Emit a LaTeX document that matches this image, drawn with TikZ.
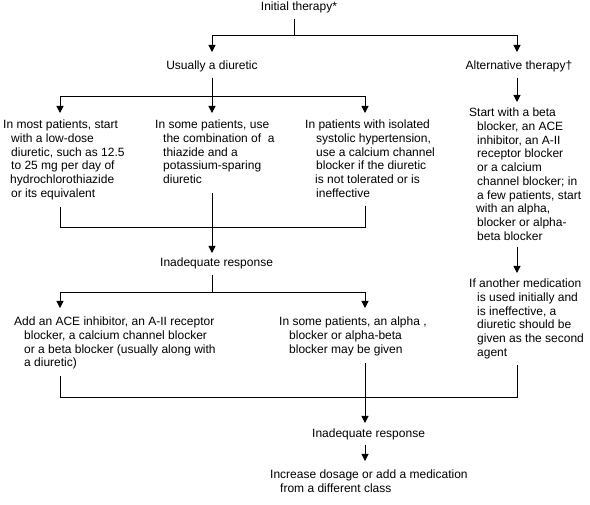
\documentclass[tikz,border=0pt]{standalone}
\usepackage{fontspec}
\setmainfont{Liberation Sans}
\usetikzlibrary{arrows.meta}
\begin{document}
\begin{tikzpicture}[x=1pt,y=-1pt,
  txt/.style={inner sep=0pt, font=\fontsize{12}{13.7}\selectfont, align=left, anchor=north west},
  ln/.style={line width=1pt},
  arr/.style={ln, -{Triangle[width=7pt,length=7pt]}}]
\useasboundingbox (0,0) rectangle (590,505);
% columns
\coordinate (xA) at (60,0);
\coordinate (xB) at (212,0);
\coordinate (xC) at (365,0);
\coordinate (xR) at (517,0);
% nodes
\node[txt, anchor=north] (init) at (299,2) {Initial therapy*};
\node[txt, anchor=north] (diur) at (212,61) {Usually a diuretic};
\node[txt, anchor=north] (alt) at (519,61) {Alternative therapy†};
\node[txt] (b1) at (3,120) {In most patients, start\\\hspace*{8pt}with a low-dose\\\hspace*{8pt}diuretic, such as 12.5\\\hspace*{8pt}to 25 mg per day of\\\hspace*{7pt}hydrochlorothiazide\\\hspace*{8pt}or its equivalent};
\node[txt] (b2) at (155,120) {In some patients, use\\\hspace*{8pt}the combination of\ \ a\\\hspace*{8pt}thiazide and a\\\hspace*{8pt}potassium-sparing\\\hspace*{8pt}diuretic};
\node[txt] (b3) at (305,120) {In patients with isolated\\\hspace*{11pt}systolic hypertension,\\\hspace*{11pt}use a calcium channel\\\hspace*{11pt}blocker if the diuretic\\\hspace*{10pt}is not tolerated or is\\\hspace*{11pt}ineffective};
\node[txt] (b6) at (469,108) {Start with a beta\\\hspace*{8pt}blocker, an ACE\\\hspace*{8pt}inhibitor, an A-II\\\hspace*{8pt}receptor blocker\\\hspace*{8pt}or a calcium\\\hspace*{8pt}channel blocker; in\\\hspace*{8pt}a few patients, start\\\hspace*{7pt}with an alpha,\\\hspace*{8pt}blocker or alpha-\\\hspace*{8pt}beta blocker};
\node[txt] (inad1) at (160,258) {Inadequate response};
\node[txt] (b4) at (14,317) {Add an ACE inhibitor, an A-II receptor\\\hspace*{10pt}blocker, a calcium channel blocker\\\hspace*{10pt}or a beta blocker (usually along with\\\hspace*{10pt}a diuretic)};
\node[txt] (b5) at (279,317) {In some patients, an alpha ,\\\hspace*{10pt}blocker or alpha-beta\\\hspace*{10pt}blocker may be given};
\node[txt] (b7) at (469,279) {If another medication\\\hspace*{8pt}is used initially and\\\hspace*{8pt}is ineffective, a\\\hspace*{8pt}diuretic should be\\\hspace*{8pt}given as the second\\\hspace*{8pt}agent};
\node[txt] (inad2) at (312,429) {Inadequate response};
\node[txt] (fin) at (270,470) {Increase dosage or add a medication\\\hspace*{10pt}from a different class};
% junctions
\coordinate (j1) at (294,36);
\coordinate (j2) at (212,97);
\coordinate (j3) at (212,228);
\coordinate (j4) at (212,293);
\coordinate (j5) at (365,398);
% connectors
\draw[ln, shorten <=5pt] (init.south -| j1) -- (j1);
\draw[arr, shorten >=9pt] (j1) -| (diur.north);
\draw[arr, shorten >=9pt] (j1) -| (alt.north -| xR);
\draw[ln, shorten <=5pt] (diur.south) -- (j2);
\draw[arr, shorten >=7pt] (j2) -| (b1.north -| xA);
\draw[arr, shorten >=7pt] (j2) -- (b2.north -| xB);
\draw[arr, shorten >=7pt] (j2) -| (b3.north -| xC);
\draw[arr, shorten <=5pt, shorten >=6pt] (alt.south -| xR) -- (b6.north -| xR);
\draw[ln, shorten <=7pt] (b1.south -| xA) |- (j3);
\draw[ln, shorten <=8pt] (b3.south -| xC) |- (j3);
\draw[arr, shorten <=9pt, shorten >=5pt] (b2.south -| xB) -- (inad1.north -| xB);
\draw[ln, shorten <=5pt] (inad1.south -| xB) -- (j4);
\draw[arr, shorten >=9pt] (j4) -| (b4.north -| xA);
\draw[arr, shorten >=9pt] (j4) -| (b5.north -| xC);
\draw[arr, shorten <=6pt, shorten >=6pt] (b6.south -| xR) -- (b7.north -| xR);
\draw[ln, shorten <=6pt] (b4.south -| xA) |- (j5);
\draw[ln, shorten <=6pt] (b7.south -| xR) |- (j5);
\draw[arr, shorten <=7pt, shorten >=6pt] (b5.south -| xC) -- (inad2.north -| xC);
\draw[arr, shorten <=4pt, shorten >=9pt] (inad2.south -| xC) -- (fin.north -| xC);
\end{tikzpicture}
\end{document}
